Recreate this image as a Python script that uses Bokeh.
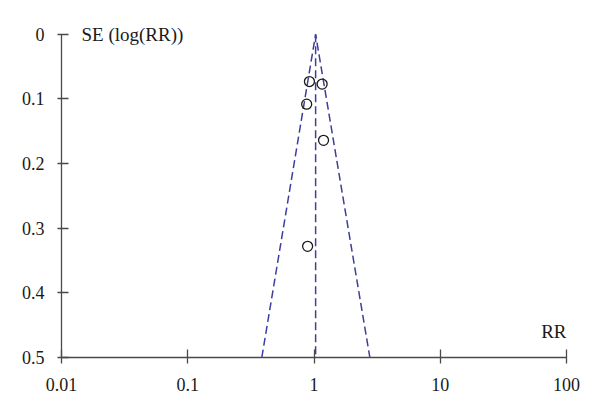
from bokeh.plotting import figure
from bokeh.models import Range1d, FixedTicker, CustomJSTickFormatter, Label, ColumnDataSource
from bokeh.embed import file_html
from bokeh.resources import INLINE

# Study estimates
rr = [0.92, 1.16, 0.875, 1.19, 0.89]
se = [0.073, 0.077, 0.108, 0.164, 0.328]

# Funnel (pooled estimate and 95% limits at SE = 0.5)
pooled_rr = 1.03
se_max = 0.5
lower_rr_at_max = 0.386
upper_rr_at_max = 2.77

x_ticks = [0.01, 0.1, 1, 10, 100]
y_ticks = [0, 0.1, 0.2, 0.3, 0.4, 0.5]

FONT = "Liberation Serif"
LINE_BLUE = "#3d3d9e"
AXIS_COL = "#4a4a4a"

p = figure(width=584, height=396, x_axis_type="log",
           x_range=Range1d(0.01, 100), y_range=Range1d(0.5, -0.04),
           output_backend="svg", toolbar_location=None,
           min_border_left=61, min_border_top=8, min_border_right=18, min_border_bottom=39)
p.outline_line_color = None
p.xgrid.visible = False
p.ygrid.visible = False

# funnel lines
p.line(x=[lower_rr_at_max, pooled_rr, upper_rr_at_max], y=[se_max, 0, se_max],
       line_color=LINE_BLUE, line_width=1.5, line_dash="8 4")
p.line(x=[pooled_rr, pooled_rr], y=[0, se_max],
       line_color=LINE_BLUE, line_width=1.5, line_dash="8 4")

src = ColumnDataSource(dict(rr=rr, se=se))
p.scatter(x="rr", y="se", source=src, size=10, marker="circle",
          fill_color=None, line_color="#1a1a1a", line_width=1.3)

for ax in (p.xaxis[0], p.yaxis[0]):
    ax.axis_line_color = AXIS_COL
    ax.axis_line_width = 1.3
    ax.major_tick_line_color = AXIS_COL
    ax.major_tick_line_width = 1.3
    ax.minor_tick_line_color = None
    ax.major_label_text_font = FONT
    ax.major_label_text_font_size = "18px"
    ax.major_label_text_color = "#1a1a1a"

p.xaxis.ticker = FixedTicker(ticks=x_ticks)
p.xaxis.formatter = CustomJSTickFormatter(code="return tick.toString();")
p.xaxis.major_tick_in = 8
p.xaxis.major_tick_out = 6
p.xaxis.major_label_standoff = 14

p.yaxis.ticker = FixedTicker(ticks=y_ticks)
p.yaxis.bounds = (0, 0.5)
p.yaxis.formatter = CustomJSTickFormatter(code="return tick.toString();")
p.yaxis.major_tick_in = 7
p.yaxis.major_tick_out = 4
p.yaxis.major_label_standoff = 13

p.add_layout(Label(x=0.01, y=0, x_offset=20, text="SE (log(RR))",
                   text_font=FONT, text_font_size="19px", text_color="#1a1a1a",
                   text_baseline="middle", text_align="left"))
p.add_layout(Label(x=100, y=0.5, y_offset=26, text="RR",
                   text_font=FONT, text_font_size="19px", text_color="#1a1a1a",
                   text_baseline="alphabetic", text_align="right"))

open("out.html", "w").write(file_html(p, INLINE))
